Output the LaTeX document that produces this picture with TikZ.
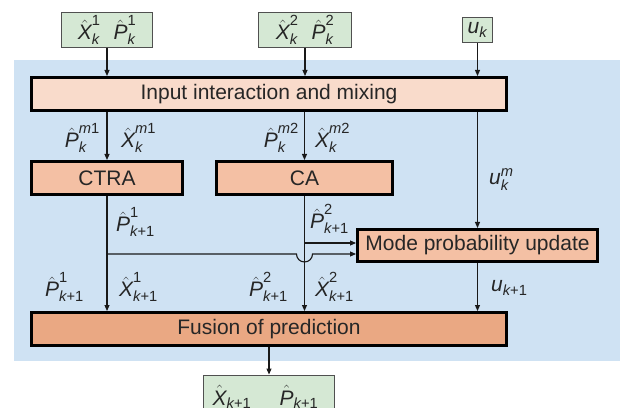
\documentclass[tikz,border=0pt]{standalone}
\usepackage{amsmath}
\usepackage{fontspec}
\setmainfont{Liberation Sans}
\usetikzlibrary{arrows.meta,calc}
\definecolor{bgblue}{HTML}{CFE2F3}
\definecolor{gfill}{HTML}{D5E8D4}
\definecolor{gline}{HTML}{505050}
\definecolor{mixfill}{HTML}{F9DBCB}
\definecolor{modfill}{HTML}{F4C0A4}
\definecolor{fusfill}{HTML}{EAA883}
\definecolor{txt}{HTML}{262626}
\newcommand\hv[1]{\hat{\textit{#1}}}
\begin{document}
\begin{tikzpicture}[x=1pt,y=1pt,
  font=\fontsize{21}{25}\selectfont, text=txt,
  gbox/.style={draw=gline, line width=1pt, fill=gfill, inner sep=0pt},
  obox/.style={draw=black, line width=2.6pt, inner sep=0pt},
  arr/.style={line width=1.1pt, draw=black!90, -{Triangle[length=6pt,width=5pt]}},
  lab/.style={inner sep=0pt}]
\useasboundingbox (0,0) rectangle (620,407);
\clip (0,0) rectangle (620,407);
\fill[bgblue] (14,46) rectangle (620,347);
% input boxes
\node[gbox, minimum width=91pt, minimum height=35pt] (in1) at (107,377)
  {$\hv{X}^{\textrm{1}}_{\textit{k}}$\hspace{13pt}$\hv{P}^{\textrm{1}}_{\textit{k}}$};
\node[gbox, minimum width=93pt, minimum height=35pt] (in2) at (305,377)
  {$\hv{X}^{\textrm{2}}_{\textit{k}}$\hspace{13pt}$\hv{P}^{\textrm{2}}_{\textit{k}}$};
\node[gbox, minimum width=30pt, minimum height=25pt] (uk) at (477.5,377)
  {$\textit{u}_{\textit{k}}$};
% process boxes
\node[obox, fill=mixfill, minimum width=475.4pt, minimum height=33.4pt] (mix) at (269,313)
  {Input interaction and mixing};
\node[obox, fill=modfill, minimum width=151.4pt, minimum height=33.4pt] (ctra) at (107,229) {CTRA};
\node[obox, fill=modfill, minimum width=176.4pt, minimum height=33.4pt] (ca) at (304.5,229) {CA};
\node[obox, fill=modfill, minimum width=240.4pt, minimum height=32.4pt] (mode) at (477.5,161.5)
  {Mode probability update};
\node[obox, fill=fusfill, minimum width=475.4pt, minimum height=33.4pt] (fus) at (269,78)
  {Fusion of prediction};
\node[gbox, minimum width=131pt, minimum height=40pt] (out) at (269,12) {};
\node[lab] (outx) at (232,10) {$\hv{X}_{\textit{k}\textrm{+1}}$};
\node[lab] (outp) at (299,10) {$\hv{P}_{\textit{k}\textrm{+1}}$};
% connectors
\draw[arr] (in1.south) -- (in1.south |- mix.north);
\draw[arr] (in2.south) -- (in2.south |- mix.north);
\draw[arr] (uk.south) -- (uk.south |- mix.north);
\draw[arr] (ctra.north |- mix.south) -- (ctra.north);
\draw[arr] (ca.north |- mix.south) -- (ca.north);
\draw[arr] (mode.north |- mix.south) -- (mode.north);
\draw[arr] (ctra.south) -- (ctra.south |- fus.north);
\draw[arr] (ca.south) -- (ca.south |- fus.north);
\draw[arr] (mode.south) -- (mode.south |- fus.north);
\draw[arr] (fus.south) -- (fus.south |- out.north);
\coordinate (t1) at (ca.south |- 0,164);
\coordinate (j1) at (ctra.south |- 0,153);
\coordinate (h1) at ($(ca.south |- 0,153)+(-8,0)$);
\draw[arr] (t1) -- (mode.west |- t1);
\draw[arr] (j1) -- (h1) arc[start angle=180, end angle=360, radius=8pt] -- (mode.west |- j1);
% labels
\node[lab, anchor=east] (l1) at (100,269) {$\hv{P}^{\textit{m}\textrm{1}}_{\textit{k}}$};
\node[lab, anchor=west] (l2) at (121,269) {$\hv{X}^{\textit{m}\textrm{1}}_{\textit{k}}$};
\node[lab, anchor=east] (l3) at (299,269) {$\hv{P}^{\textit{m}\textrm{2}}_{\textit{k}}$};
\node[lab, anchor=west] (l4) at (315,269) {$\hv{X}^{\textit{m}\textrm{2}}_{\textit{k}}$};
\node[lab, anchor=west] (l5) at (489,227) {$\textit{u}^{\textit{m}}_{\textit{k}}$};
\node[lab, anchor=west] (l6) at (116,185) {$\hv{P}^{\textrm{1}}_{\textit{k}\textrm{+1}}$};
\node[lab, anchor=west] (l7) at (310,188) {$\hv{P}^{\textrm{2}}_{\textit{k}\textrm{+1}}$};
\node[lab, anchor=east] (l8) at (84,120) {$\hv{P}^{\textrm{1}}_{\textit{k}\textrm{+1}}$};
\node[lab, anchor=west] (l9) at (119,120) {$\hv{X}^{\textrm{1}}_{\textit{k}\textrm{+1}}$};
\node[lab, anchor=east] (l10) at (288,120) {$\hv{P}^{\textrm{2}}_{\textit{k}\textrm{+1}}$};
\node[lab, anchor=west] (l11) at (315,120) {$\hv{X}^{\textrm{2}}_{\textit{k}\textrm{+1}}$};
\node[lab, anchor=west] (l12) at (491,119) {$\textit{u}_{\textit{k}\textrm{+1}}$};
\end{tikzpicture}
\end{document}
